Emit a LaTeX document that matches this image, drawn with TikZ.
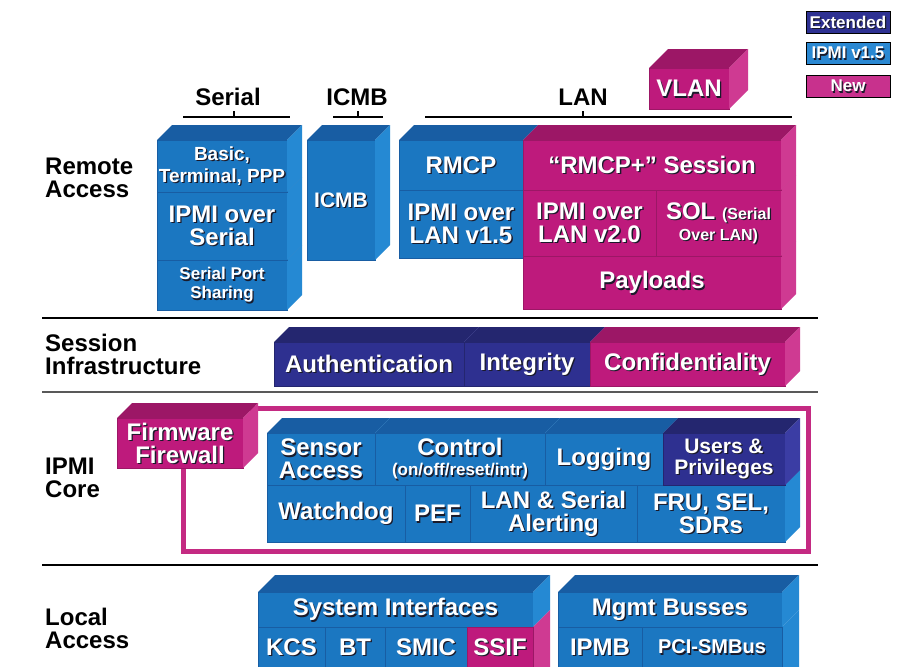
\documentclass[tikz,border=0pt]{standalone}
\usepackage{fontspec}
\setmainfont{Liberation Sans}

% palette: F = front face, T = top face, S = side face
\definecolor{bF}{HTML}{1B77C1}
\definecolor{bT}{HTML}{185DA3}
\definecolor{bS}{HTML}{2589D3}
\definecolor{mF}{HTML}{BE1A7C}
\definecolor{mT}{HTML}{9C1766}
\definecolor{mS}{HTML}{CF3A92}
\definecolor{nF}{HTML}{2E3090}
\definecolor{nT}{HTML}{24266F}
\definecolor{nS}{HTML}{3B3DA4}
\definecolor{shd}{HTML}{1A1A2A}
\definecolor{frameM}{HTML}{C42A82}
\definecolor{legExt}{HTML}{2E3192}
\definecolor{legOld}{HTML}{2A88D2}
\definecolor{legNew}{HTML}{C8318D}

% white lettering with a dark drop shadow
\newcommand\shtx[1]{\makebox[0pt][l]{\hspace*{1.3pt}\raisebox{-1.3pt}[0pt][0pt]{\textcolor{shd}{#1}}}#1}

% depth of the 3-D blocks
\newcommand\bdepth{15}

% front face only: name, x1, y1, x2, y2, palette, {size}{skip}, text
\newcommand\flatblk[8]{%
  \node[face, fill=#6F, draw=#6T, font={\bfseries\fontsize#7\selectfont},
        minimum width={(#4)-(#2)}, minimum height={(#5)-(#3)}]
        (#1) at ({((#2)+(#4))/2},{((#3)+(#5))/2}) {#8};}

% full block: front face plus top and right faces
\newcommand\blk[8]{%
  \flatblk{#1}{#2}{#3}{#4}{#5}{#6}{#7}{#8}
  \fill[#6T] (#1.north west) -- ++(\bdepth,-\bdepth)
       -- ([shift={(\bdepth,-\bdepth)}]#1.north east) -- (#1.north east) -- cycle;
  \fill[#6S] (#1.north east) -- ++(\bdepth,-\bdepth)
       -- ([shift={(\bdepth,-\bdepth)}]#1.south east) -- (#1.south east) -- cycle;}

\begin{document}
\begin{tikzpicture}[x=1pt,y=-1pt,
  face/.style={inner sep=0pt, outer sep=0pt, align=center, text=white, line width=0.5pt},
  hdr/.style={font=\bfseries\fontsize{24}{23}\selectfont, text=black, inner sep=0pt, anchor=base},
  side label/.style={font=\bfseries\fontsize{24}{23}\selectfont, text=black, align=left,
                     inner sep=0pt, anchor=north west},
  divider/.style={line width=2.6pt},
  hdrline/.style={line width=1.8pt},
  legendbox/.style={draw=black, line width=0.8pt, minimum width=84pt, minimum height=22pt,
                    inner sep=0pt, text=white, font=\bfseries\fontsize{17}{17}\selectfont},
  coreframe/.style={draw=frameM, line width=5pt}
]
\clip (0,0) rectangle (898,667);
\fill[white] (0,0) rectangle (898,667);

% legend
\node[legendbox, fill=legExt] (lgExt) at (848,22) {\shtx{Extended}};
\node[legendbox, fill=legOld] (lgOld) at (848,53) {\shtx{IPMI v1.5}};
\node[legendbox, fill=legNew] (lgNew) at (848,86) {\shtx{New}};

% transport headers
\node[hdr] (hSerial) at (228,105) {Serial};
\node[hdr] (hIcmb) at (357,105) {ICMB};
\node[hdr] (hLan) at (583,105) {LAN};
\draw[hdrline] (183,117) -- (290,117) (234,117) -- (234,111);
\draw[hdrline] (333,117) -- (383,117) (358,117) -- (358,111);
\draw[hdrline] (425,117) -- (792,117) (583,117) -- (583,111);

% layer labels
\node[side label] (raLbl) at (45,158) {Remote\\Access};
\node[side label] (siLbl) at (45,334) {Session\\Infrastructure};
\node[side label] (icLbl) at (45,458) {IPMI\\Core};
\node[side label] (laLbl) at (45,608) {Local\\Access};

% layer dividers
\draw[divider] (42,318) -- (818,318);
\draw[divider, draw=black!65] (42,392) -- (818,392);
\draw[divider] (42,565) -- (818,565);

% ---- remote access ----
\blk{ser3}{157}{260}{287}{310}{b}{{17}{19}}{\shtx{Serial Port}\\\shtx{Sharing}}
\blk{ser2}{157}{192}{287}{260}{b}{{24}{23}}{\shtx{IPMI over}\\\shtx{Serial}}
\blk{ser1}{157}{140}{287}{192}{b}{{19}{22}}{\shtx{Basic,}\\\shtx{Terminal, PPP}}
\blk{icmb}{307}{140}{375}{260}{b}{{21}{21}}{\shtx{ICMB}}
\blk{lan15}{399}{190}{523}{258}{b}{{24}{23}}{\shtx{IPMI over}\\\shtx{LAN v1.5}}
\blk{rmcp}{399}{140}{523}{190}{b}{{24}{23}}{\shtx{RMCP}}
\blk{payl}{523}{256}{781}{309}{m}{{24}{23}}{\shtx{Payloads}}
\blk{lan20}{523}{190}{656}{256}{m}{{24}{23}}{\shtx{IPMI over}\\\shtx{LAN v2.0}}
\blk{sol}{656}{190}{781}{256}{m}{{24}{23}}{\shtx{SOL {\fontsize{16}{16}\selectfont(Serial}}\\[-2pt]{\fontsize{16}{16}\selectfont\shtx{Over LAN)}}}
\blk{rmcpp}{523}{140}{781}{190}{m}{{24}{23}}{\shtx{“RMCP+” Session}}
\begin{scope}
  \renewcommand\bdepth{19}
  \blk{vlan}{649}{68}{729}{109}{m}{{24}{23}}{\shtx{VLAN}}
\end{scope}

% ---- session infrastructure ----
\blk{auth}{274}{342}{464}{386}{n}{{24}{23}}{\shtx{Authentication}}
\blk{integ}{464}{342}{590}{386}{n}{{24}{23}}{\shtx{Integrity}}
\blk{conf}{590}{342}{785}{386}{m}{{24}{23}}{\shtx{Confidentiality}}

% ---- IPMI core ----
\draw[coreframe] (183,468) -- (183,551) -- (808,551) -- (808,408) -- (250,408);
\blk{fw}{117}{418}{243}{468}{m}{{24}{23}}{\shtx{Firmware}\\\shtx{Firewall}}
\blk{wdog}{267}{485}{405}{542}{b}{{24}{23}}{\shtx{Watchdog}}
\blk{pef}{405}{485}{470}{542}{b}{{24}{23}}{\shtx{PEF}}
\blk{alert}{470}{485}{637}{542}{b}{{24}{23}}{\shtx{LAN \& Serial}\\\shtx{Alerting}}
\blk{fru}{637}{485}{785}{542}{b}{{24}{23}}{\shtx{FRU, SEL,}\\\shtx{SDRs}}
\blk{sens}{267}{433}{375}{485}{b}{{24}{23}}{\shtx{Sensor}\\\shtx{Access}}
\blk{ctrl}{375}{433}{545}{485}{b}{{24}{23}}{\shtx{Control}\\[-3pt]{\fontsize{17}{17}\selectfont\shtx{(on/off/reset/intr)}}}
\blk{logg}{545}{433}{663}{485}{b}{{24}{23}}{\shtx{Logging}}
\blk{users}{663}{433}{785}{485}{n}{{21}{21}}{\shtx{Users \&}\\\shtx{Privileges}}

% ---- local access ----
\renewcommand\bdepth{17}
\blk{sysif}{258}{592}{533}{627}{b}{{24}{23}}{\shtx{System Interfaces}}
\fill[mS] (sysif.south east) -- ++(\bdepth,-\bdepth) -- (550,680) -- (533,680) -- cycle;
\flatblk{kcs}{258}{627}{325}{667}{b}{{24}{23}}{\shtx{KCS}}
\flatblk{bt}{325}{627}{385}{667}{b}{{24}{23}}{\shtx{BT}}
\flatblk{smic}{385}{627}{467}{667}{b}{{24}{23}}{\shtx{SMIC}}
\flatblk{ssif}{467}{627}{533}{667}{m}{{24}{23}}{\shtx{SSIF}}

\blk{mgmt}{558}{592}{782}{627}{b}{{24}{23}}{\shtx{Mgmt Busses}}
\fill[bS] (mgmt.south east) -- ++(\bdepth,-\bdepth) -- (799,680) -- (782,680) -- cycle;
\flatblk{ipmb}{558}{627}{642}{667}{b}{{24}{23}}{\shtx{IPMB}}
\flatblk{pcismb}{642}{627}{782}{667}{b}{{20}{20}}{\shtx{PCI-SMBus}}
\end{tikzpicture}
\end{document}
